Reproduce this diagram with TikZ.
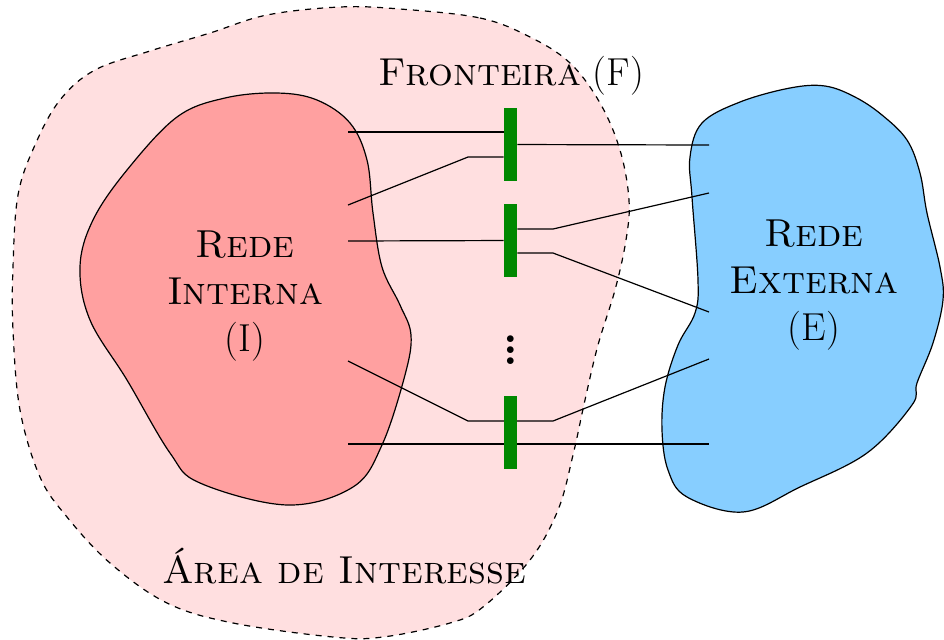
\documentclass[tikz,border=0pt]{standalone}
\usetikzlibrary{backgrounds}

\definecolor{areafill}{HTML}{FFDFE0}
\definecolor{redeint}{HTML}{FFA0A0}
\definecolor{redeext}{HTML}{87CEFF}
\definecolor{portgreen}{HTML}{008800}

\begin{document}
\begin{tikzpicture}[x=0.5pt,y=-0.5pt,
	rotulo/.style={font=\fontsize{19.5}{23.5}\selectfont, align=center, inner sep=0pt},
	porta/.style={fill=portgreen, minimum width=6.5pt, minimum height=36.5pt, inner sep=0pt},
	blob/.style={draw=black, line width=0.6pt},
	link/.style={draw=black, line width=0.6pt}]
	\useasboundingbox (0,0) rectangle (944,639);

	% portas da fronteira
	\node [porta] (f1) at (510.5,144.5) {};
	\node [porta] (f2) at (510.5,240.5) {};
	\node [porta] (f3) at (510.5,432.5) {};
	\node [font=\LARGE\bfseries, scale=1.35, inner sep=0pt, anchor=base] (dots) at (511,364) {\vdots};

	% textos
	\node [rotulo] (rint) at (245,296) {\textsc{Rede}\\\textsc{Interna}\\(I)};
	\node [rotulo] (rext) at (814,285) {\textsc{Rede}\\\textsc{Externa}\\(E)};
	\node [rotulo, anchor=base] (front) at (511,85) {\textsc{Fronteira} (F)};
	\node [rotulo, anchor=base] (area) at (344,583) {\textsc{Área de Interesse}};

	% extremos e cotovelos das ligacoes
	\coordinate (i1) at (348,132);
	\coordinate (i2) at (348,205);
	\coordinate (i3) at (348,241);
	\coordinate (i4) at (348,361);
	\coordinate (i5) at (348,444);
	\coordinate (e1) at (709,145);
	\coordinate (e2) at (709,193);
	\coordinate (e3) at (709,312);
	\coordinate (e4) at (709,359);
	\coordinate (e5) at (709,444);
	\coordinate (b2) at (468,157);
	\coordinate (b7) at (553,229);
	\coordinate (b8) at (553,253);
	\coordinate (b4l) at (468,421);
	\coordinate (b4r) at (553,421);

	\begin{scope}[on background layer]
	\draw [fill=areafill, dashed, line width=0.6pt] plot [smooth cycle, tension=0.6] coordinates {
		(400,9) (480,18) (530,37) (570,63) (600,103) (620,150) (629,200)
		(626,240) (615,290) (598,345) (585,400) (573,455) (558,510)
		(530,560) (483,607) (450,623) (383,637) (333,637) (233,623)
		(167,603) (110,563) (67,517) (40,477) (20,410) (13,330) (13,267)
		(18,195) (35,145) (60,100) (95,70) (150,51) (210,33) (267,15) (340,7)};
	\draw [blob, fill=redeint] plot [smooth cycle, tension=0.6] coordinates {
		(277,93) (317,100) (350,123) (367,160) (373,213) (382,267) (400,305)
		(411,335) (405,375) (382,445) (353,487) (287,505) (200,483) (170,453)
		(127,380) (90,320) (80,267) (93,220) (127,170) (177,117) (225,98)};
	\draw [blob, fill=redeext] plot [smooth cycle, tension=0.6] coordinates {
		(740,102) (790,88) (825,86) (855,97) (882,115) (907,140) (920,173)
		(927,213) (940,267) (943,300) (933,343) (917,383) (912,405) (867,453)
		(800,487) (743,512) (687,497) (668,470) (662,430) (665,387) (678,345)
		(695,313) (698,280) (692,197) (690,157) (702,123)};

	\draw [link] (i1) -- (i1 -| f1.west);
	\draw [link] (i2) -- (b2) -- (b2 -| f1.west);
	\draw [link] (f1) -- (e1);
	\draw [link] (i3) -- (f2);
	\draw [link] (b7 -| f2.east) -- (b7) -- (e2);
	\draw [link] (b8 -| f2.east) -- (b8) -- (e3);
	\draw [link] (i4) -- (b4l) -- (b4r) -- (e4);
	\draw [link] (i5) -- (e5);
	\end{scope}
\end{tikzpicture}
\end{document}
